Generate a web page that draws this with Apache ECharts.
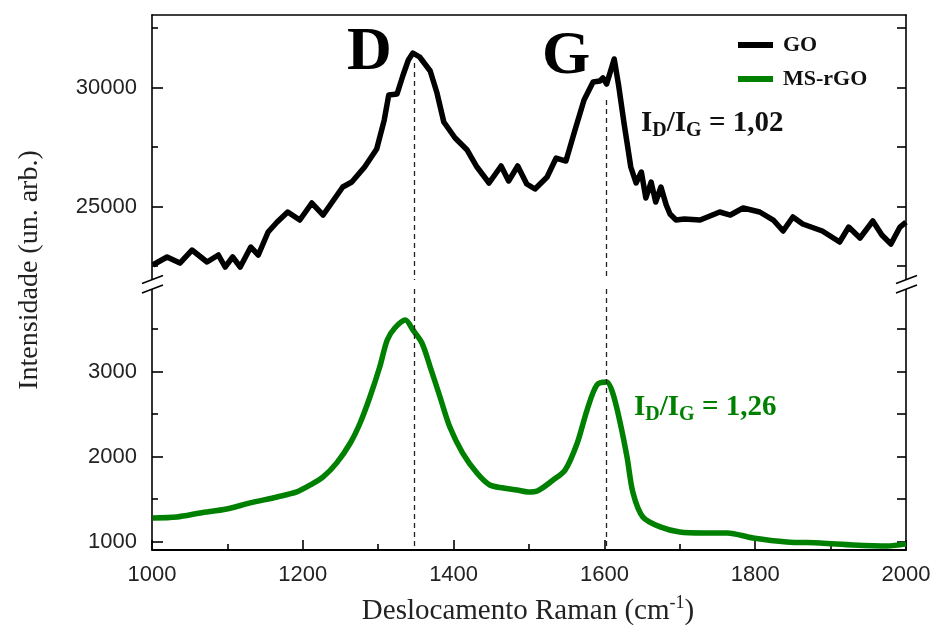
<!DOCTYPE html>
<html><head><meta charset="utf-8">
<script src="https://cdn.jsdelivr.net/npm/echarts@6/dist/echarts.min.js"></script>
<style>html,body{margin:0;padding:0;background:#fff}#c{width:934px;height:630px}</style>
</head><body><div id="c"></div>
<script>
// ---- data ----
const goShift = [1001,1020,1037,1053,1073,1088,1097,1107,1117,1131,1141,1154,1166,1180,1196,1212,1227,1240,1253,1265,1282,1298,1308,1314,1325,1333,1340,1346,1355,1369,1378,1387,1402,1418,1431,1447,1463,1473,1485,1497,1508,1524,1536,1549,1561,1573,1585,1594,1598,1603,1613,1619,1626,1635,1642,1649,1655,1662,1668,1675,1682,1687,1695,1706,1727,1753,1767,1784,1806,1824,1837,1850,1863,1889,1912,1924,1939,1956,1968,1980,1992,2000];
const goIntensity = [22550,22886,22634,23180,22676,22970,22466,22886,22466,23306,22970,23936,24356,24777,24440,25155,24650,25239,25827,26038,26668,27424,28639,29693,29735,30534,31164,31458,31290,30702,29777,28559,27886,27382,26668,25996,26710,26080,26710,25954,25743,26248,27046,26920,28223,29483,30240,30282,30408,30156,31206,30071,28517,26668,25996,26458,25365,26038,25197,25827,25071,24693,24440,24483,24440,24777,24650,24945,24777,24440,23978,24567,24273,23978,23516,24146,23684,24399,23810,23432,24146,24356];
const rgoShift = [1001,1033,1064,1099,1130,1166,1192,1210,1227,1245,1263,1276,1289,1302,1312,1322,1336,1346,1358,1369,1382,1395,1412,1431,1448,1466,1484,1499,1511,1532,1548,1564,1577,1590,1603,1611,1621,1630,1638,1651,1674,1700,1731,1763,1797,1842,1886,1930,1975,2000];
const rgoIntensity = [1279,1291,1338,1385,1456,1526,1585,1667,1762,1927,2161,2396,2702,3055,3373,3514,3608,3491,3338,3055,2702,2349,2043,1808,1667,1632,1608,1585,1597,1726,1844,2161,2549,2844,2879,2750,2396,1996,1573,1291,1174,1114,1103,1103,1044,997,985,962,950,974];
const seriesNames = ['GO', 'MS-rGO'];
const xTickLabels = [1000, 1200, 1400, 1600, 1800, 2000];
const goLabelTicks = [25000, 30000];
const goMinorTicks = [22500, 27500, 32500];
const rgoLabelTicks = [1000, 2000, 3000];
const rgoMinorTicks = [1500, 2500, 3500];
const bandD = 1348, bandG = 1603;
const bandDTopGO = 31040, bandGTopGO = 29480;
const ratioGO = '1,02', ratioRGO = '1,26';
const xTitle = 'Deslocamento Raman (cm', xTitleSup = '-1';
const yTitle = 'Intensidade (un. arb.)';

// ---- chart ----
const SERIF = '"Liberation Serif", "Times New Roman", serif';
const SANS = '"Liberation Sans", Arial, sans-serif';
const GREEN = '#008000';
const chart = echarts.init(document.getElementById('c'));
const topRange = [21920, 33055];
const botRange = [902, 3973];

function yAx(grid, range, pos, ticks, len, labels, lineShow) {
  return {
    type: 'value', gridIndex: grid, position: pos, min: range[0], max: range[1],
    axisLine: { show: lineShow, lineStyle: { color: '#000', width: 1.6 } },
    axisTick: { show: true, inside: true, length: len, customValues: ticks, lineStyle: { color: '#000', width: 1.6 } },
    axisLabel: labels ? { show: true, customValues: labels, formatter: v => String(v),
      fontFamily: SANS, fontSize: 22, color: '#222', margin: 15 } : { show: false },
    splitLine: { show: false }
  };
}
const allGo = goLabelTicks.concat(goMinorTicks).sort((a,b)=>a-b);
const allRgo = rgoLabelTicks.concat(rgoMinorTicks).sort((a,b)=>a-b);

function richRatio(val, color) {
  const base = { fontFamily: SERIF, fontWeight: 'bold', fill: color, color: color };
  return {
    text: '{m|I}{s|D}{m|/I}{s|G}{m| = ' + val + '}',
    rich: {
      m: Object.assign({ fontSize: 29, lineHeight: 32 }, base),
      s: Object.assign({ fontSize: 20, lineHeight: 20, padding: [15, 0, 0, 0] }, base)
    }
  };
}

chart.setOption({
  animation: false,
  backgroundColor: '#fff',
  grid: [
    { left: 152, right: 28, top: 15, height: 265 },
    { left: 152, right: 28, top: 289, height: 261 }
  ],
  legend: {
    orient: 'vertical', left: 733, top: 28, itemWidth: 35, itemHeight: 6, itemGap: 10,
    icon: 'rect', data: seriesNames,
    textStyle: { fontFamily: SERIF, fontWeight: 'bold', fontSize: 22, color: '#111', lineHeight: 24, padding: [0, 0, 0, 5] }
  },
  xAxis: [
    { type: 'value', gridIndex: 0, position: 'top', min: 1000, max: 2000,
      axisLine: { show: true, lineStyle: { color: '#000', width: 1.6 } },
      axisTick: { show: false }, axisLabel: { show: false }, splitLine: { show: false } },
    { type: 'value', gridIndex: 1, position: 'bottom', min: 1000, max: 2000, interval: 200,
      axisLine: { show: true, lineStyle: { color: '#000', width: 1.8 } },
      axisTick: { show: true, inside: true, length: 10, lineStyle: { color: '#000', width: 1.6 } },
      minorTick: { show: true, splitNumber: 2, length: 6, lineStyle: { color: '#000', width: 1.6 } },
      axisLabel: { fontFamily: SANS, fontSize: 22, color: '#222', margin: 14,
        formatter: v => xTickLabels.indexOf(v) >= 0 ? String(v) : '' },
      splitLine: { show: false } }
  ],
  yAxis: [
    yAx(0, topRange, 'left', goLabelTicks, 11, goLabelTicks, true),
    yAx(0, topRange, 'left', goMinorTicks, 6, null, false),
    yAx(0, topRange, 'right', allGo, 9, null, true),
    yAx(1, botRange, 'left', rgoLabelTicks, 11, rgoLabelTicks, true),
    yAx(1, botRange, 'left', rgoMinorTicks, 6, null, false),
    yAx(1, botRange, 'right', allRgo, 9, null, true)
  ],
  series: [
    { name: seriesNames[0], type: 'line', xAxisIndex: 0, yAxisIndex: 0, showSymbol: false, symbol: 'none',
      color: '#000', lineStyle: { color: '#000', width: 5.5, join: 'round' },
      data: goShift.map((x, i) => [x, goIntensity[i]]),
      markLine: { silent: true, symbol: 'none', label: { show: false },
        lineStyle: { color: '#222', type: [5, 4], width: 1.3 },
        data: [
          [{ coord: [bandD, bandDTopGO] }, { coord: [bandD, topRange[0]] }],
          [{ coord: [bandG, bandGTopGO] }, { coord: [bandG, topRange[0]] }]
        ] } },
    { name: seriesNames[1], type: 'line', xAxisIndex: 1, yAxisIndex: 3, showSymbol: false, symbol: 'none',
      smooth: 0.3,
      color: GREEN, lineStyle: { color: GREEN, width: 5.5, join: 'round' },
      data: rgoShift.map((x, i) => [x, rgoIntensity[i]]),
      markLine: { silent: true, symbol: 'none', label: { show: false }, z: 10,
        lineStyle: { color: '#222', type: [5, 4], width: 1.3 },
        data: [
          [{ coord: [bandD, botRange[1]] }, { coord: [bandD, botRange[0]] }],
          [{ coord: [bandG, botRange[1]] }, { coord: [bandG, botRange[0]] }]
        ] } }
  ],
  graphic: [
    { type: 'text', left: 347, top: 22, style: { text: 'D', fontFamily: SERIF, fontWeight: 'bold', fontSize: 62, fill: '#000' } },
    { type: 'text', left: 542, top: 26, style: { text: 'G', fontFamily: SERIF, fontWeight: 'bold', fontSize: 62, fill: '#000' } },
    { type: 'text', left: 641, top: 106, style: richRatio(ratioGO, '#111') },
    { type: 'text', left: 634, top: 390, style: richRatio(ratioRGO, GREEN) },
    { type: 'text', x: 30, y: 270, rotation: Math.PI / 2,
      style: { text: yTitle, fontFamily: SERIF, fontSize: 28, fill: '#222', align: 'center', verticalAlign: 'middle' } },
    { type: 'text', x: 528, y: 611,
      style: { text: '{t|' + xTitle + '}{u|' + xTitleSup + '}{t|)}', align: 'center', verticalAlign: 'middle',
        rich: { t: { fontFamily: SERIF, fontSize: 29, fill: '#222', lineHeight: 32 },
                u: { fontFamily: SERIF, fontSize: 18, fill: '#222', lineHeight: 18, padding: [0, 0, 15, 0] } } } },
    // axis breaks
    { type: 'rect', shape: { x: 146, y: 280, width: 12, height: 9 }, style: { fill: '#fff' }, z: 50 },
    { type: 'rect', shape: { x: 900, y: 280, width: 12, height: 9 }, style: { fill: '#fff' }, z: 50 },
    { type: 'line', shape: { x1: 142, y1: 283.5, x2: 163, y2: 275.5 }, style: { stroke: '#000', lineWidth: 1.6 }, z: 51 },
    { type: 'line', shape: { x1: 142, y1: 293, x2: 163, y2: 285 }, style: { stroke: '#000', lineWidth: 1.6 }, z: 51 },
    { type: 'line', shape: { x1: 896, y1: 283.5, x2: 917, y2: 275.5 }, style: { stroke: '#000', lineWidth: 1.6 }, z: 51 },
    { type: 'line', shape: { x1: 896, y1: 293, x2: 917, y2: 285 }, style: { stroke: '#000', lineWidth: 1.6 }, z: 51 }
  ]
});
</script></body></html>
